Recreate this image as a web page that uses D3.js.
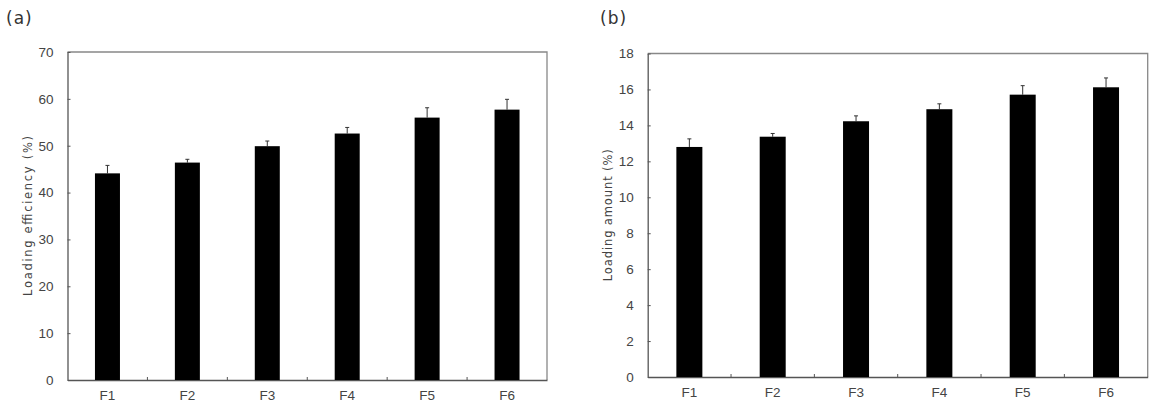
<!DOCTYPE html>
<html>
<head>
<meta charset="utf-8">
<script src="https://cdn.jsdelivr.net/npm/d3@7"></script>
<style>
  body { margin: 0; background: #fff; }
  svg { display: block; }
  .tick text { fill: #444; font-family: "Liberation Sans", Arial, sans-serif; font-size: 13.5px; }
</style>
</head>
<body>
<div id="chart"></div>
<script>
// data
var categories = ["F1", "F2", "F3", "F4", "F5", "F6"];
var efficiency = [44.1, 46.4, 49.9, 52.6, 56.0, 57.7];
var efficiencyErr = [1.7, 0.7, 1.1, 1.3, 2.1, 2.2];
var amount = [12.8, 13.37, 14.23, 14.9, 15.71, 16.12];
var amountErr = [0.45, 0.18, 0.3, 0.3, 0.5, 0.52];
var effTicks = [0, 10, 20, 30, 40, 50, 60, 70];
var amtTicks = [0, 2, 4, 6, 8, 10, 12, 14, 16, 18];

var svg = d3.select("#chart")
  .append("svg")
  .attr("width", 1161)
  .attr("height", 405);

function drawPanel(opts) {
  var g = svg.append("g")
    .attr("transform", `translate(${opts.left}, ${opts.top})`);

  var x = d3.scaleBand()
    .domain(categories)
    .range([0, opts.width]);

  var y = d3.scaleLinear()
    .domain([0, opts.max])
    .range([opts.height, 0]);

  // frame (top + right)
  g.append("path")
    .attr("d", `M0,0H${opts.width}V${opts.height}`)
    .attr("fill", "none")
    .attr("stroke", "#888")
    .attr("stroke-width", 1.3);

  // y axis, ticks pointing inward
  var yAxis = g.append("g")
    .call(d3.axisLeft(y).tickValues(opts.ticks).tickSizeInner(-3).tickSizeOuter(0).tickPadding(14));
  yAxis.select(".domain").attr("stroke", "#555").attr("stroke-width", 1.3);
  yAxis.selectAll(".tick line").attr("stroke", "#555");

  // x axis, labels at band centres, ticks at band edges
  var xAxis = g.append("g")
    .attr("transform", `translate(0, ${opts.height})`)
    .call(d3.axisBottom(x).tickSize(0).tickPadding(10));
  xAxis.select(".domain").attr("stroke", "#555").attr("stroke-width", 1.3);

  g.selectAll(".sep")
    .data(categories.slice(1))
    .enter()
    .append("line")
    .attr("x1", d => x(d))
    .attr("x2", d => x(d))
    .attr("y1", opts.height)
    .attr("y2", opts.height - 3)
    .attr("stroke", "#555");

  var barW = opts.barW;

  // error bars (upper only)
  var err = g.selectAll(".err")
    .data(categories)
    .enter()
    .append("g")
    .attr("stroke", "#333")
    .attr("stroke-width", 1);
  err.append("line")
    .attr("x1", d => x(d) + x.bandwidth() / 2)
    .attr("x2", d => x(d) + x.bandwidth() / 2)
    .attr("y1", (d, i) => y(opts.values[i]))
    .attr("y2", (d, i) => y(opts.values[i] + opts.errs[i]));
  err.append("line")
    .attr("x1", d => x(d) + x.bandwidth() / 2 - 2)
    .attr("x2", d => x(d) + x.bandwidth() / 2 + 2)
    .attr("y1", (d, i) => y(opts.values[i] + opts.errs[i]))
    .attr("y2", (d, i) => y(opts.values[i] + opts.errs[i]));

  // bars
  g.selectAll(".bar")
    .data(categories)
    .enter()
    .append("rect")
    .attr("x", d => x(d) + x.bandwidth() / 2 - barW / 2)
    .attr("y", (d, i) => y(opts.values[i]))
    .attr("width", barW)
    .attr("height", (d, i) => opts.height - y(opts.values[i]))
    .attr("fill", "#000");

  // y axis title
  g.append("text")
    .attr("transform", "rotate(-90)")
    .attr("x", -opts.height / 2)
    .attr("y", opts.titleX)
    .attr("text-anchor", "middle")
    .attr("font-family", "'DejaVu Sans', sans-serif")
    .attr("font-size", 11.5)
    .attr("fill", "#444")
    .attr("textLength", opts.titleLen)
    .attr("lengthAdjust", "spacing")
    .text(opts.title);

  // panel label
  svg.append("text")
    .attr("x", opts.labelX)
    .attr("y", 24)
    .attr("font-family", "'DejaVu Sans', sans-serif")
    .attr("font-size", 17)
    .attr("letter-spacing", 1)
    .attr("fill", "#333")
    .text(opts.label);
}

drawPanel({
  left: 67.5, top: 52, width: 479.5, height: 328,
  max: 70, ticks: effTicks, values: efficiency, errs: efficiencyErr,
  barW: 25, title: "Loading efficiency (%)", titleX: -36, titleLen: 160,
  label: "(a)", labelX: 6
});

drawPanel({
  left: 647.7, top: 53.5, width: 500, height: 323.5,
  max: 18, ticks: amtTicks, values: amount, errs: amountErr,
  barW: 26, title: "Loading amount (%)", titleX: -36, titleLen: 132,
  label: "(b)", labelX: 600
});
</script>
</body>
</html>
